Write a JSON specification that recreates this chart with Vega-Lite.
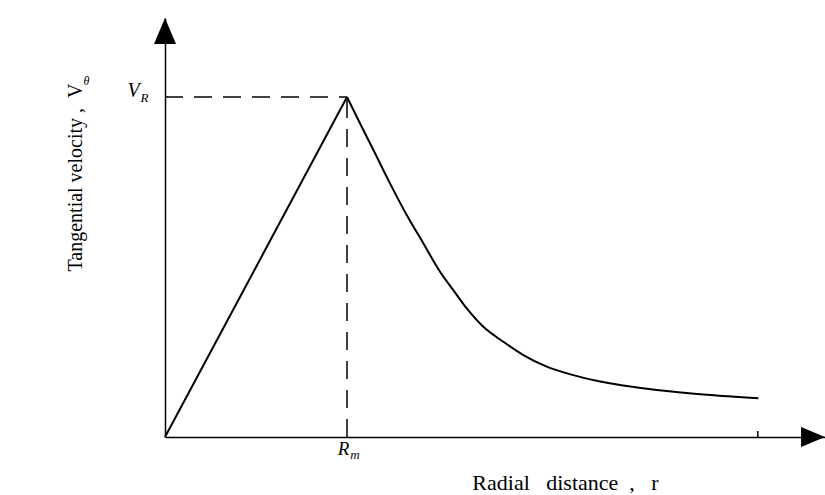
{
  "$schema": "https://vega.github.io/schema/vega-lite/v6.json",
  "width": 660,
  "height": 419,
  "autosize": {"type": "none"},
  "padding": {"left": 165, "top": 18, "right": 0, "bottom": 58},
  "background": "white",
  "config": {"view": {"stroke": null}, "font": "Liberation Serif"},
  "datasets": {
    "curve": [
      {"seg": "rise", "r": 0, "v": 0},
      {"seg": "rise", "r": 1, "v": 1},
      {"seg": "fall", "r": 1, "v": 1},
      {"seg": "fall", "r": 1.071, "v": 0.923},
      {"seg": "fall", "r": 1.145, "v": 0.844},
      {"seg": "fall", "r": 1.236, "v": 0.746},
      {"seg": "fall", "r": 1.328, "v": 0.653},
      {"seg": "fall", "r": 1.419, "v": 0.57},
      {"seg": "fall", "r": 1.511, "v": 0.486},
      {"seg": "fall", "r": 1.584, "v": 0.432},
      {"seg": "fall", "r": 1.658, "v": 0.378},
      {"seg": "fall", "r": 1.749, "v": 0.324},
      {"seg": "fall", "r": 1.859, "v": 0.28},
      {"seg": "fall", "r": 1.969, "v": 0.241},
      {"seg": "fall", "r": 2.097, "v": 0.207},
      {"seg": "fall", "r": 2.243, "v": 0.182},
      {"seg": "fall", "r": 2.39, "v": 0.163},
      {"seg": "fall", "r": 2.537, "v": 0.15},
      {"seg": "fall", "r": 2.702, "v": 0.138},
      {"seg": "fall", "r": 2.976, "v": 0.124},
      {"seg": "fall", "r": 3.26, "v": 0.114}
    ],
    "guides": [
      {"r": 0, "v": 1, "r2": 1, "v2": 1},
      {"r": 1, "v": 0, "r2": 1, "v2": 1}
    ],
    "tick": [{"r": 3.257, "v": 0, "v2": 0.018}],
    "yarrow": [{"r": 0, "v": 1.194}],
    "xarrow": [{"r": 3.5604, "v": 0}],
    "peak": [{"r": 0, "v": 1}],
    "rm": [{"r": 1, "v": 0}]
  },
  "layer": [
    {
      "data": {"name": "curve"},
      "mark": {"type": "line", "interpolate": "monotone", "color": "black", "strokeWidth": 2},
      "encoding": {
        "x": {
          "field": "r", "type": "quantitative",
          "scale": {"domain": [0, 3.626], "nice": false, "zero": false},
          "axis": {
            "title": "Radial\u00a0\u00a0\u00a0distance\u00a0\u00a0,\u00a0\u00a0\u00a0r",
            "ticks": false, "labels": false, "grid": false,
            "domainColor": "black", "domainWidth": 1.5,
            "titleFont": "Liberation Serif", "titleFontSize": 22, "titleFontWeight": "normal",
            "titleColor": "black", "titleX": 400, "titleY": 45,
            "titleAlign": "center", "titleBaseline": "middle"
          }
        },
        "y": {
          "field": "v", "type": "quantitative",
          "scale": {"domain": [0, 1.2324], "nice": false, "zero": false},
          "axis": {
            "title": "Tangential velocity ,\u00a0\u00a0V",
            "ticks": false, "labels": false, "grid": false,
            "domainColor": "black", "domainWidth": 1.5,
            "titleFont": "Liberation Serif", "titleFontSize": 20, "titleFontWeight": "normal",
            "titleColor": "black", "titleAngle": -90, "titleX": -90, "titleY": 159,
            "titleAlign": "center", "titleBaseline": "middle"
          }
        },
        "detail": {"field": "seg", "type": "nominal"}
      }
    },
    {
      "data": {"name": "guides"},
      "mark": {"type": "rule", "color": "black", "strokeWidth": 1.5, "strokeDash": [18, 11]},
      "encoding": {
        "x": {"field": "r", "type": "quantitative"},
        "y": {"field": "v", "type": "quantitative"},
        "x2": {"field": "r2"},
        "y2": {"field": "v2"}
      }
    },
    {
      "data": {"name": "tick"},
      "mark": {"type": "rule", "color": "black", "strokeWidth": 1.5},
      "encoding": {
        "x": {"field": "r", "type": "quantitative"},
        "y": {"field": "v", "type": "quantitative"},
        "y2": {"field": "v2"}
      }
    },
    {
      "data": {"name": "yarrow"},
      "mark": {"type": "point", "shape": "M0,-1L0.846,1L-0.846,1Z", "filled": true, "color": "black", "opacity": 1, "size": 676, "strokeWidth": 0},
      "encoding": {
        "x": {"field": "r", "type": "quantitative"},
        "y": {"field": "v", "type": "quantitative"}
      }
    },
    {
      "data": {"name": "xarrow"},
      "mark": {"type": "point", "shape": "M1,0L-1,0.833L-1,-0.833Z", "filled": true, "color": "black", "opacity": 1, "size": 576, "strokeWidth": 0},
      "encoding": {
        "x": {"field": "r", "type": "quantitative"},
        "y": {"field": "v", "type": "quantitative"}
      }
    },
    {
      "data": {"name": "peak"},
      "mark": {"type": "text", "text": "V", "font": "Liberation Serif", "fontStyle": "italic", "fontSize": 20, "align": "center", "baseline": "alphabetic", "dx": -31.5, "dy": 0, "color": "black"},
      "encoding": {
        "x": {"field": "r", "type": "quantitative"},
        "y": {"field": "v", "type": "quantitative"}
      }
    },
    {
      "data": {"name": "peak"},
      "mark": {"type": "text", "text": "R", "font": "Liberation Serif", "fontStyle": "italic", "fontSize": 13, "align": "center", "baseline": "alphabetic", "dx": -20.5, "dy": 5, "color": "black"},
      "encoding": {
        "x": {"field": "r", "type": "quantitative"},
        "y": {"field": "v", "type": "quantitative"}
      }
    },
    {
      "data": {"name": "peak"},
      "mark": {"type": "text", "text": "θ", "font": "Liberation Serif", "fontStyle": "italic", "fontSize": 12, "align": "center", "baseline": "alphabetic", "dx": -78.5, "dy": -12, "color": "black"},
      "encoding": {
        "x": {"field": "r", "type": "quantitative"},
        "y": {"field": "v", "type": "quantitative"}
      }
    },
    {
      "data": {"name": "rm"},
      "mark": {"type": "text", "text": "R", "font": "Liberation Serif", "fontStyle": "italic", "fontSize": 19, "align": "center", "baseline": "alphabetic", "dx": -3.5, "dy": 18, "color": "black"},
      "encoding": {
        "x": {"field": "r", "type": "quantitative"},
        "y": {"field": "v", "type": "quantitative"}
      }
    },
    {
      "data": {"name": "rm"},
      "mark": {"type": "text", "text": "m", "font": "Liberation Serif", "fontStyle": "italic", "fontSize": 13, "align": "center", "baseline": "alphabetic", "dx": 8, "dy": 22, "color": "black"},
      "encoding": {
        "x": {"field": "r", "type": "quantitative"},
        "y": {"field": "v", "type": "quantitative"}
      }
    }
  ]
}
